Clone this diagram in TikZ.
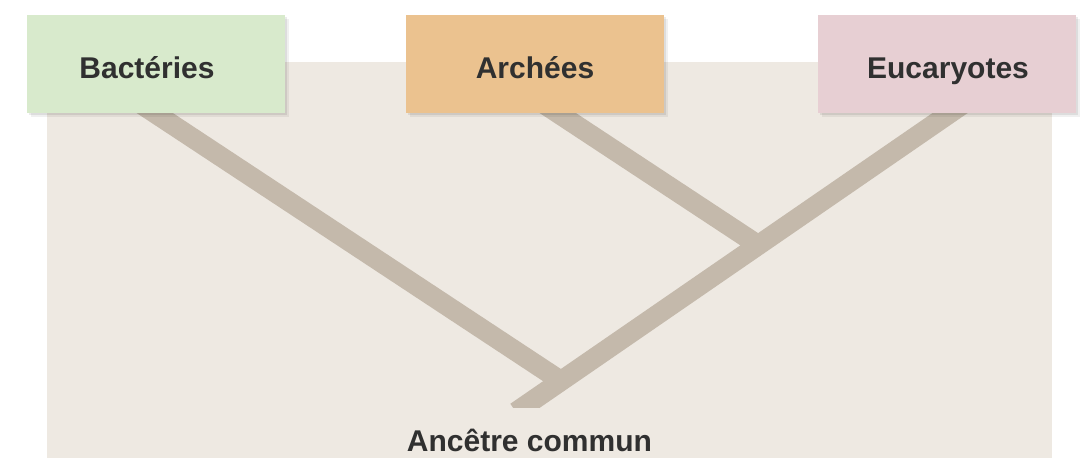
\documentclass[tikz,border=0pt]{standalone}
\usepackage{fontspec}
\setmainfont{Liberation Sans}
\usetikzlibrary{shadows}
\definecolor{panelc}{HTML}{EEE9E2}
\definecolor{branchc}{HTML}{C4B9AB}
\definecolor{bacc}{HTML}{D8EACC}
\definecolor{arcc}{HTML}{EBC28F}
\definecolor{eucc}{HTML}{E7CFD3}
\definecolor{txtc}{HTML}{303030}
\tikzset{
  labelbox/.style={minimum width=258pt, minimum height=98pt, inner sep=0pt,
    drop shadow={shadow xshift=4pt, shadow yshift=-4pt, opacity=0.06, fill=black},
    drop shadow={shadow xshift=2pt, shadow yshift=-2pt, opacity=0.08, fill=black}},
  labeltext/.style={font=\fontsize{30}{34}\selectfont\bfseries, text=txtc, anchor=base},
  branch/.style={draw=branchc, line width=20pt, line cap=butt},
}
\begin{document}
\begin{tikzpicture}[x=1pt,y=-1pt]
\useasboundingbox (0,0) rectangle (1083,458);
\fill[white] (0,0) rectangle (1083,458);
\fill[panelc] (47,62) rectangle (1052,458);
% tree coordinates
\coordinate (bactop) at (135,100);
\coordinate (arctop) at (538,100);
\coordinate (euctop) at (969,100);
\coordinate (j1) at (561,381);
\coordinate (j2) at (758,245);
\coordinate (root) at (516,412);
\begin{scope}
\clip (47,62) rectangle (1052,407);
\draw[branch] (bactop) -- (j1);
\draw[branch] (arctop) -- (j2);
\draw[branch] (root) -- (euctop);
\end{scope}
% boxes
\node[labelbox, fill=bacc] (bac) at (155.5,64) {};
\node[labeltext] (bact) at (147,78) {Bactéries};
\node[labelbox, fill=arcc] (arc) at (535,64) {};
\node[labeltext] (arct) at (535,78) {Archées};
\node[labelbox, fill=eucc] (euc) at (946.5,64) {};
\node[labeltext] (euct) at (948,78) {Eucaryotes};
\node[labeltext] (anc) at (529.5,451) {Ancêtre commun};
\end{tikzpicture}
\end{document}
